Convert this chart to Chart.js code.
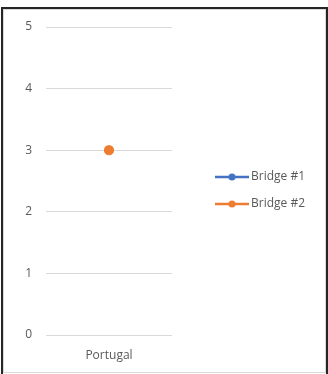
<!DOCTYPE html>
<html>
<head>
<meta charset="utf-8">
<script src="https://cdn.jsdelivr.net/npm/chart.js@4"></script>
<style>
  html, body { margin: 0; padding: 0; background: #fff; overflow: hidden; }
  .frame { position: absolute; left: 1px; top: 7px; width: 323px; height: 380px;
           border: 2px solid #262626; border-bottom: none; }
  .plot { position: absolute; left: 0; top: 0; width: 321px; height: 362px; border: 1px solid #d9d9d9; }
  canvas { display: block; }
</style>
</head>
<body>
<div class="frame"><div class="plot"><canvas id="chart" width="321" height="362"></canvas></div></div>
<script>
const categories = ["Portugal"];
const seriesNames = ["Bridge #1", "Bridge #2"];
const bridge1 = [null];
const bridge2 = [3];
const yTicks = [0, 1, 2, 3, 4, 5];

const colors = ["#4472C4", "#ED7D31"];
const textColor = "#595959";
const font = { family: "'Open Sans', sans-serif", size: 12 };

// legend swatch: short line with a dot, drawn on the right part of the image
function legendMark(color) {
  const c = document.createElement("canvas");
  c.width = 68;
  c.height = 10;
  const g = c.getContext("2d");
  g.strokeStyle = color;
  g.lineWidth = 2.5;
  g.beginPath();
  g.moveTo(33, 5);
  g.lineTo(67, 5);
  g.stroke();
  g.fillStyle = color;
  g.beginPath();
  g.arc(50, 5, 3.5, 0, Math.PI * 2);
  g.fill();
  return c;
}
const marks = colors.map(legendMark);

new Chart(document.getElementById("chart"), {
  type: "line",
  data: {
    labels: categories,
    datasets: [bridge1, bridge2].map((data, i) => ({
      label: seriesNames[i],
      data,
      borderColor: colors[i],
      backgroundColor: colors[i],
      borderWidth: 2.25,
      pointRadius: 4,
      pointHoverRadius: 4,
    })),
  },
  options: {
    responsive: false,
    animation: false,
    layout: { padding: { top: 17, right: 10, bottom: 0, left: 0 } },
    plugins: {
      tooltip: { enabled: false },
      legend: {
        position: "right",
        fullSize: false,
        maxWidth: 200,
        // empty title only used as a spacer above the items
        title: {
          display: true,
          text: "",
          font: { size: 10, lineHeight: 1.2 },
          padding: { top: 3.5, bottom: 3.5 },
        },
        labels: {
          usePointStyle: true,
          pointStyleWidth: 58,
          padding: 15,
          color: textColor,
          font,
          generateLabels(chart) {
            return Chart.defaults.plugins.legend.labels
              .generateLabels(chart)
              .map((item, i) => ({ ...item, pointStyle: marks[i] }));
          },
        },
      },
    },
    scales: {
      x: {
        offset: true,
        grid: { display: false },
        border: { display: false },
        ticks: { color: textColor, font, padding: 5 },
        afterFit(scale) { scale.height = 37; },
      },
      y: {
        min: yTicks[0],
        max: yTicks[yTicks.length - 1],
        grid: { color: "#d9d9d9", drawTicks: false },
        border: { display: false },
        ticks: { stepSize: 1, color: textColor, font, padding: 14 },
        afterFit(scale) {
          scale.width = 42;
          scale.paddingTop = 0;
          scale.paddingBottom = 0;
        },
      },
    },
  },
});
</script>
</body>
</html>
